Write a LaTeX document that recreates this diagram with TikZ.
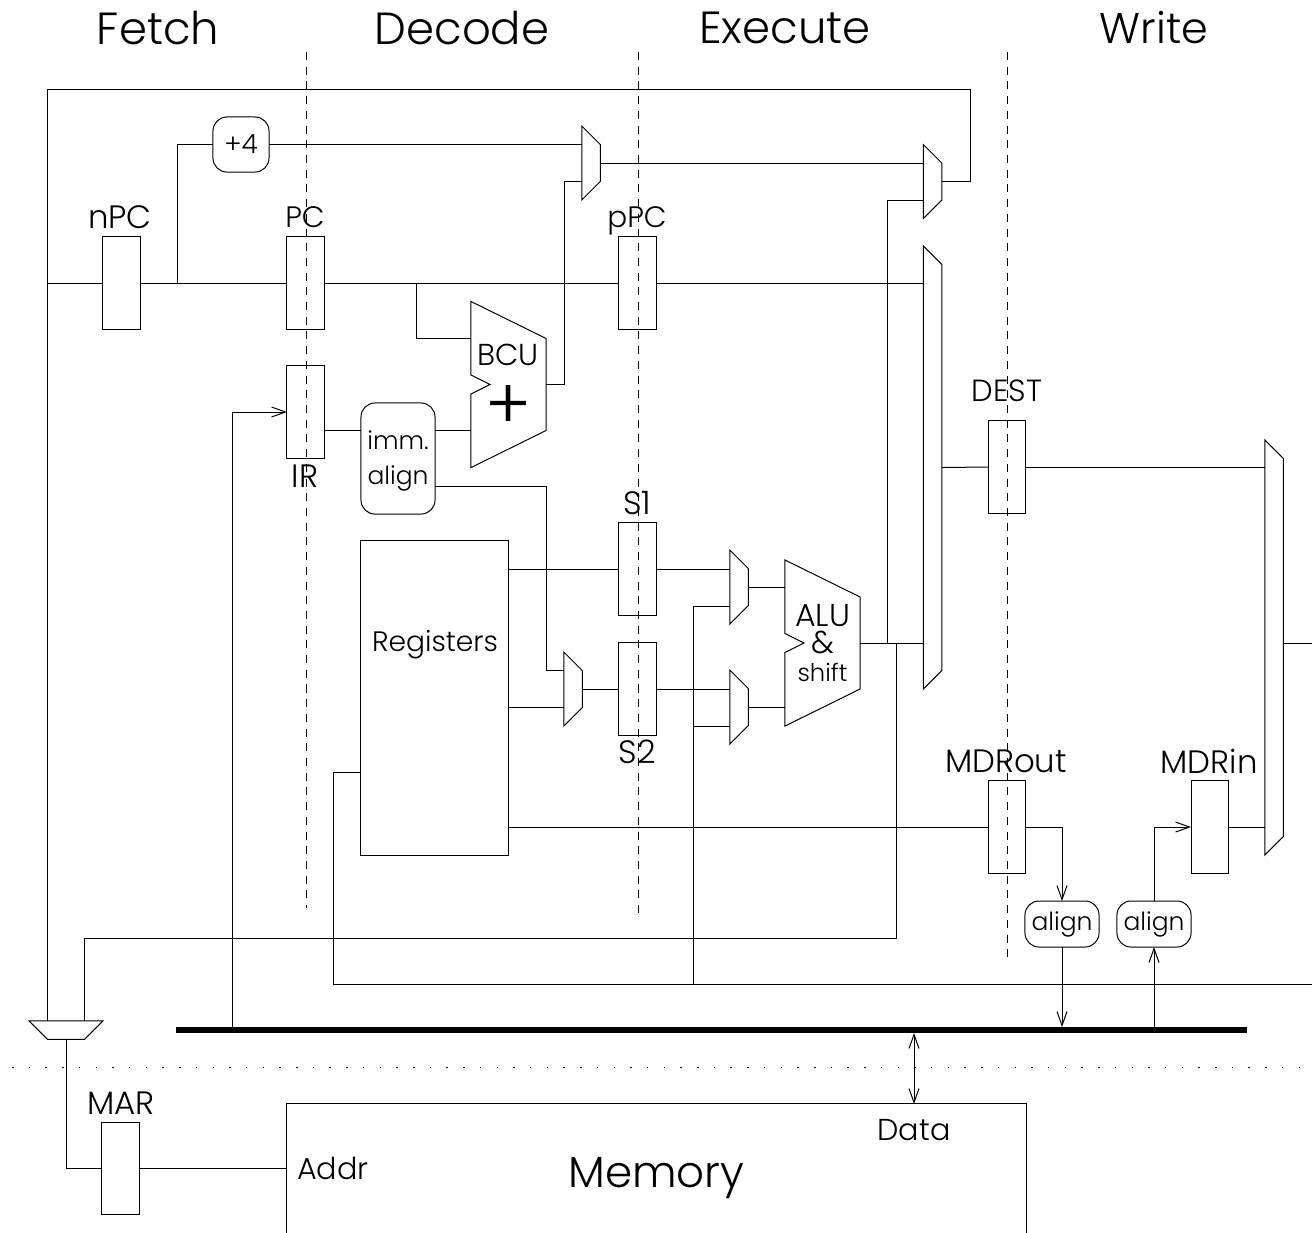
\documentclass[tikz,border=0pt]{standalone}
\usepackage{fontspec}
\setmainfont{Poppins}[UprightFont=* Light]
\usetikzlibrary{shapes.geometric,arrows.meta}

\newcommand{\alubody}[1]{%
    \draw (#1.north west) -- ([yshift=-.37cm]#1.north east) -- ([yshift=.37cm]#1.south east)
        -- (#1.south west) -- ([yshift=-.095cm]#1.west) -- ([xshift=.19cm]#1.west)
        -- ([yshift=.095cm]#1.west) -- cycle;}

\tikzset{
    wire/.style={line width=.01cm},
    reg/.style={draw, minimum width=.37cm, minimum height=.92cm, inner sep=0pt, outer sep=0pt},
    mux/.style={draw, trapezium, shape border rotate=270, trapezium angle=45, trapezium stretches body=true,
        minimum width=.74cm, inner sep=.0925cm, outer sep=0pt},
    logic/.style={minimum width=.75cm, minimum height=1.66cm, inner sep=0pt, outer sep=0pt},
    roundbox/.style={draw, rounded corners=.14cm, inner sep=0pt, outer sep=0pt},
    stage/.style={font=\fontsize{12.8}{12.8}\selectfont},
    tag/.style={font=\fontsize{9.2}{9.2}\selectfont, inner sep=0pt, text depth=0pt},
    small/.style={font=\fontsize{7.1}{7.1}\selectfont, inner sep=0pt},
    >={Straight Barb[length=.14cm,width=.1cm]}
}

\begin{document}
\begin{tikzpicture}[x=.01cm, y=-.01cm, wire]
    \useasboundingbox (0,0) rectangle (1312,1232);

    % Stages
    \node[stage] (fetch) at (158,28) {Fetch};
    \node[stage] (decode) at (462,28) {Decode};
    \node[stage] (execute) at (785,28) {Execute};
    \node[stage, font=\fontsize{12.2}{12.2}\selectfont] (write) at (1154,28) {Write};

    % Stage boundaries
    \draw[dash pattern=on .08cm off .067cm] (306,52) -- (306,908);
    \draw[dash pattern=on .08cm off .067cm] (638,52) -- (638,918);
    \draw[dash pattern=on .08cm off .067cm] (1007,52) -- (1007,958);
    \draw[dash pattern=on .015cm off .152cm] (12,1067) -- (1312,1067);

    % Pipeline registers
    \node[reg] (nPC) at (121.5,283) {};
    \node[reg] (PC) at (305.5,283) {};
    \node[reg] (pPC) at (637.5,283) {};
    \node[reg] (IR) at (305.5,412) {};
    \node[reg] (DEST) at (1006.5,467) {};
    \node[reg] (Sone) at (637.5,569) {};
    \node[reg] (Stwo) at (637.5,689) {};
    \node[reg] (MDRout) at (1006.5,827) {};
    \node[reg] (MDRin) at (1209.5,827) {};
    \node[reg] (MAR) at (120.5,1168) {};

    % Register labels
    \node[tag] (nPClabel) at (120,217) {nPC};
    \node[tag, font=\fontsize{8.4}{8.4}\selectfont] (PClabel) at (305,217) {PC};
    \node[tag, font=\fontsize{8.4}{8.4}\selectfont] (pPClabel) at (637,217) {pPC};
    \node[tag] (IRlabel) at (305,476) {IR};
    \node[tag, font=\fontsize{8.7}{8.7}\selectfont] (DESTlabel) at (1007,391) {DEST};
    \node[tag] (Sonelabel) at (637,503) {S1};
    \node[tag] (Stwolabel) at (637,752) {S2};
    \node[tag] (MDRoutlabel) at (1006,761) {MDRout};
    \node[tag] (MDRinlabel) at (1209,761) {MDRin};
    \node[tag] (MARlabel) at (121,1103) {MAR};

    % Muxes
    \node[mux] (muxA) at (591,163) {};
    \node[mux] (muxB) at (932.5,181.5) {};
    \node[mux, minimum width=4.43cm] (muxC) at (932.5,467.5) {};
    \node[mux, minimum width=4.15cm] (muxD) at (1274,647.5) {};
    \node[mux] (muxS) at (573,689) {};
    \node[mux] (muxL) at (739,587) {};
    \node[mux] (muxR) at (739,707) {};
    \node[mux, shape border rotate=180] (muxM) at (66,1030) {};

    % BCU and ALU
    \node[logic] (bcu) at (508.5,384.5) {};
    \alubody{bcu}
    \node[tag, font=\fontsize{8.6}{8.6}\selectfont] (bcutext) at (508,355) {BCU};
    \node[font=\fontsize{20}{20}\selectfont, inner sep=0pt] (bcuplus) at (509,408) {+};
    \node[logic, align=center, font=\fontsize{9}{7.9}\selectfont] (alu) at (822.5,643)
        {ALU\\\&\\{\fontsize{6.9}{7.9}\selectfont shift}};
    \alubody{alu}

    % Boxes
    \node[roundbox, minimum width=.56cm, minimum height=.55cm, font=\fontsize{7.5}{7.5}\selectfont] (plusfour) at (241,144.5) {+4};
    \node[roundbox, minimum width=.74cm, minimum height=1.11cm] (imm) at (398,458.5) {};
    \node[align=center, inner sep=0pt, font=\fontsize{7.1}{10.2}\selectfont] (immtext) at (398,461) {imm.\\align};
    \node[draw, minimum width=1.47cm, minimum height=3.14cm, inner sep=0pt, outer sep=0pt] (regs) at (434.5,698) {};
    \node[tag, font=\fontsize{8}{8}\selectfont] (regstext) at (435,641) {Registers};
    \node[roundbox, minimum width=.74cm, minimum height=.46cm, small] (alignout) at (1062,924) {align};
    \node[roundbox, minimum width=.74cm, minimum height=.46cm, small] (alignin) at (1154,924) {align};

    % Memory, cut off by the page
    \node[draw, minimum width=7.39cm, minimum height=1.48cm, outer sep=0pt, font=\fontsize{12.4}{12.4}\selectfont] (mem) at (656.5,1178) {Memory};
    \node[small, font=\fontsize{8.6}{8.6}\selectfont] (addr) at (333,1168) {Addr};
    \node[small, font=\fontsize{8.6}{8.6}\selectfont] (data) at (914,1130) {Data};

    % Bus
    \coordinate (busL) at (176,1030);
    \coordinate (busR) at (1247,1030);
    \coordinate (busT) at (176,1027);
    \coordinate (busB) at (176,1033);
    \draw[line width=.06cm] (busL) -- (busR);

    % PC path
    \coordinate (pcin) at (47,283);
    \coordinate (pctap) at (177,283);
    \coordinate (bcutap) at (416,283);
    \draw (pcin) -- (nPC.west);
    \draw (nPC.east) -- (PC.west);
    \draw (PC.east) -- (pPC.west);
    \draw (pPC.east) -- (pPC.east -| muxC.west);
    \draw (pctap) |- (plusfour.west);
    \draw (plusfour.east) -- (plusfour.east -| muxA.west);
    \draw (muxA.east) -- (muxA.east -| muxB.west);

    % Branch target
    \coordinate (bcuin) at (471,338);
    \coordinate (jmp) at (564,181);
    \draw (bcutap) |- (bcuin);
    \draw (bcu.east) -| (jmp) -- (jmp -| muxA.west);
    \coordinate (immout) at (324,430);
    \draw (immout) -- (immout -| imm.west);
    \draw (immout -| imm.east) -- (immout -| bcu.west);
    \coordinate (immdown) at (435,486);
    \coordinate (immturn) at (546,670);
    \draw (immdown) -| (immturn) -- (immturn -| muxS.west);

    % Back to the fetch stage
    \coordinate (loop) at (970,89);
    \coordinate (loopend) at (47,89);
    \coordinate (muxMa) at (47,1021);
    \draw (muxB.east) -| (loop) -- (loopend) -- (muxMa);

    % Register file
    \coordinate (regout) at (508,707);
    \coordinate (regwb) at (361,772);
    \coordinate (wbbus) at (333,984);
    \coordinate (wbend) at (1312,984);
    \draw (Sone.west -| regs.east) -- (Sone.west);
    \draw (regout) -- (regout -| muxS.west);
    \draw (MDRout.west -| regs.east) -- (MDRout.west);
    \draw (regwb) -| (wbbus) -- (wbend);

    % Execute
    \coordinate (fwd) at (693,984);
    \coordinate (fwdA) at (693,606);
    \coordinate (fwdB) at (693,726);
    \draw (muxS.east) -- (Stwo.west);
    \draw (Sone.east) -- (Sone.east -| muxL.west);
    \draw (Stwo.east) -- (Stwo.east -| muxR.west);
    \draw (fwd) -- (fwdA) -- (fwdA -| muxL.west);
    \draw (fwdB) -- (fwdB -| muxR.west);
    \draw (muxL.east) -- (muxL.east -| alu.west);
    \draw (muxR.east) -- (muxR.east -| alu.west);
    \draw (alu.east) -- (alu.east -| muxC.west);

    % ALU result
    \coordinate (aluup) at (887,643);
    \coordinate (aludown) at (896,643);
    \coordinate (addrline) at (896,938);
    \coordinate (muxMb) at (84,1021);
    \coordinate (muxBb) at (887,200);
    \draw (aluup) -- (muxBb) -- (muxBb -| muxB.west);
    \draw (aludown) -- (addrline) -| (muxMb);

    % Write back
    \coordinate (out) at (1312,643);
    \draw (muxC.east) -- (DEST.west);
    \draw (DEST.east) -- (DEST.east -| muxD.west);
    \draw (out -| muxD.east) -- (out);
    \draw (MDRin.east) -- (MDRin.east -| muxD.west);

    % Memory data
    \coordinate (irbus) at (232,1028);
    \draw[->] (irbus) |- (IR.west);
    \draw[->] (MDRout.east) -| (alignout.north);
    \draw[->] (alignout.south) -- (alignout.south |- busT);
    \draw[->] (alignin.south |- busT) -- (alignin.south);
    \draw[->] (alignin.north) |- (MDRin.west);
    \draw[<->] (data |- busB) -- (data |- mem.north);

    % Memory address
    \draw (muxM.south) |- (MAR.west);
    \draw (MAR.east) -- (MAR.east -| mem.west);
\end{tikzpicture}
\end{document}
